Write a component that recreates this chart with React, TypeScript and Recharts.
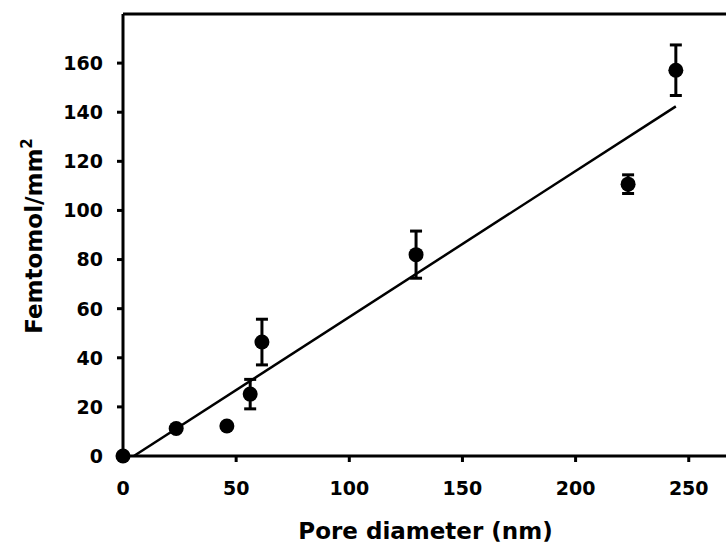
import {
  ScatterChart,
  Scatter,
  XAxis,
  YAxis,
  ErrorBar,
  ReferenceLine,
} from "recharts";

// measured points (pore diameter nm, femtomol/mm2, +/- error)
const poreDiameter = [0, 23.5, 45.9, 56.2, 61.4, 129.5, 223.2, 244.3];
const femtomol = [0, 11.2, 12.2, 25.2, 46.4, 82, 110.7, 157.1];
const errors = [0, 0, 0, 6, 9.3, 9.6, 3.8, 10.3];

// linear fit end points
const fitX = [4.8, 244.3];
const fitY = [0, 142.4];

const xTicks = [0, 50, 100, 150, 200, 250];
const yTicks = [0, 20, 40, 60, 80, 100, 120, 140, 160];

const points = poreDiameter.map((x, i) => ({ x, y: femtomol[i], err: errors[i] }));
const fitLine = fitX.map((x, i) => ({ x, y: fitY[i] }));

const FONT = "'DejaVu Sans', sans-serif";

const XTick = (props: any) => (
  <text
    x={props.x}
    y={props.y}
    dy="0.75em"
    textAnchor="middle"
    fontFamily={FONT}
    fontWeight="bold"
    fontSize={19}
    fill="#000"
  >
    {props.payload.value}
  </text>
);

const YTick = (props: any) => (
  <text
    x={props.x}
    y={props.y}
    dy="0.36em"
    textAnchor="end"
    fontFamily={FONT}
    fontWeight="bold"
    fontSize={19}
    fill="#000"
  >
    {props.payload.value}
  </text>
);

const Dot = (props: any) => <circle cx={props.cx} cy={props.cy} r={7.5} fill="#000" />;
const NoDot = () => <g />;

const YTitle = (props: any) => {
  const { viewBox } = props;
  const cx = 42;
  const cy = viewBox.y + viewBox.height / 2 + 1;
  return (
    <text
      x={cx}
      y={cy}
      transform={`rotate(-90, ${cx}, ${cy})`}
      textAnchor="middle"
      fontFamily={FONT}
      fontWeight="bold"
      fontSize={23}
      fill="#000"
    >
      Femtomol/mm
      <tspan fontSize={15} dy={-10}>
        2
      </tspan>
    </text>
  );
};

const XTitle = (props: any) => {
  const { viewBox } = props;
  return (
    <text
      x={viewBox.x + viewBox.width / 2 - 3}
      y={viewBox.y + 83}
      textAnchor="middle"
      fontFamily={FONT}
      fontWeight="bold"
      fontSize={23}
      fill="#000"
    >
      Pore diameter (nm)
    </text>
  );
};

export default function App() {
  return (
    <div
      style={{
        position: "absolute",
        left: 0,
        top: 0,
        width: 726,
        height: 546,
        overflow: "hidden",
        background: "#fff",
      }}
    >
      <ScatterChart
        width={740}
        height={546}
        margin={{ top: 14, right: 6, left: 0, bottom: 30 }}
      >
        <XAxis
          type="number"
          dataKey="x"
          domain={[0, 270]}
          ticks={xTicks}
          height={60}
          tick={<XTick />}
          tickSize={6}
          tickMargin={19}
          axisLine={{ stroke: "#000", strokeWidth: 3 }}
          tickLine={{ stroke: "#000", strokeWidth: 3 }}
          label={<XTitle />}
        />
        <YAxis
          type="number"
          dataKey="y"
          domain={[0, 180]}
          ticks={yTicks}
          width={123}
          tick={<YTick />}
          tickSize={6}
          tickMargin={14}
          axisLine={{ stroke: "#000", strokeWidth: 3 }}
          tickLine={{ stroke: "#000", strokeWidth: 3 }}
          label={<YTitle />}
        />
        <ReferenceLine y={180} stroke="#000" strokeWidth={3} />
        <Scatter
          data={fitLine}
          line={{ stroke: "#000", strokeWidth: 2.5 }}
          shape={NoDot}
          isAnimationActive={false}
        />
        <Scatter data={points} shape={Dot} fill="#000" isAnimationActive={false}>
          <ErrorBar
            dataKey="err"
            direction="y"
            width={6}
            stroke="#000"
            strokeWidth={3}
          />
        </Scatter>
      </ScatterChart>
    </div>
  );
}
